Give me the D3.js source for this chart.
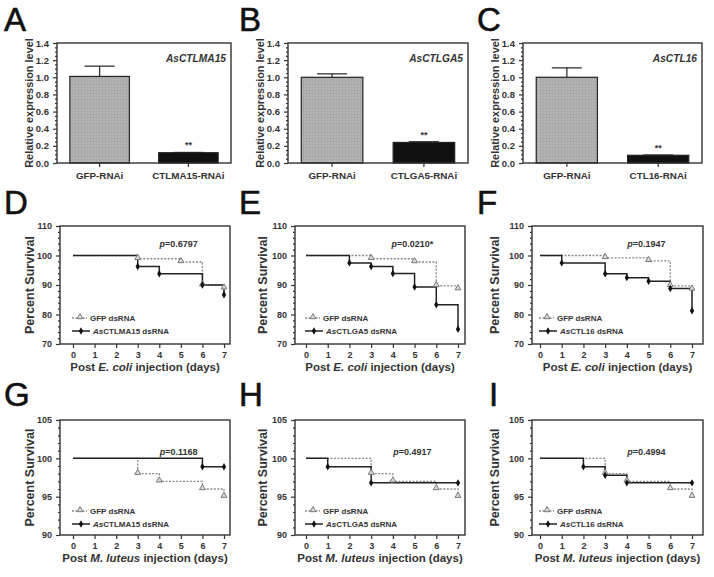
<!DOCTYPE html>
<html><head><meta charset="utf-8">
<script src="https://cdn.jsdelivr.net/npm/d3@7"></script>
<style>body{margin:0;background:#fff} svg{display:block} text{font-family:"Liberation Sans",Arial,sans-serif;fill:#333}</style>
</head><body><svg id="c" width="714" height="577"></svg>
<script>
// ---------- data ----------
const barGenes = ["AsCTLMA15", "AsCTLGA5", "AsCTL16"];
const ctrlLabels = ["GFP-RNAi", "GFP-RNAi", "GFP-RNAi"];
const kdLabels = ["CTLMA15-RNAi", "CTLGA5-RNAi", "CTL16-RNAi"];
const ctrlMeans = [1.01, 1.00, 1.00];
const ctrlErr = [0.12, 0.04, 0.11];
const kdMeans = [0.12, 0.24, 0.09];
const kdErr = [0.003, 0.008, 0.003];
const barYTicks = [0, 0.2, 0.4, 0.6, 0.8, 1.0, 1.2, 1.4];

const dayTicks = [0, 1, 2, 3, 4, 5, 6, 7];
const ecoliYTicks = [70, 80, 90, 100, 110];
const luteusYTicks = [90, 95, 100, 105];
const panelLetters = ["A", "B", "C", "D", "E", "F", "G", "H", "I"];
const dsNames = ["CTLMA15", "CTLGA5", "CTL16"];
const pValues = ["0.6797", "0.0210*", "0.1947", "0.1168", "0.4917", "0.4994"];

// survival curves [day, percent]
const gfpEcoliMA15 = [[0,100],[3,98.9],[5,97.8],[6,90],[7,88.9]];
const ctlEcoliMA15 = [[0,100],[3,96.3],[4,93.8],[6,90],[7,86.7]];
const gfpEcoliGA5  = [[0,100],[3,98.9],[5,97.8],[6,89.7],[7,88.6]];
const ctlEcoliGA5  = [[0,100],[2,97.5],[3,96.3],[4,93.9],[5,89.3],[6,83.3],[7,75]];
const gfpEcoliL16  = [[0,100],[3,99.2],[5,98.2],[6,89.7],[7,88.5]];
const ctlEcoliL16  = [[0,100],[1,97.5],[3,93.8],[4,92.5],[5,91.3],[6,88.8],[7,81.3]];
const gfpLutMA15 = [[0,100],[3,98],[4,97],[6,96],[7,95]];
const ctlLutMA15 = [[0,100],[6,98.9],[7,98.9]];
const gfpLutGA5  = [[0,100],[3,98],[4,97],[6,96],[7,95]];
const ctlLutGA5  = [[0,100],[1,98.9],[3,96.8],[7,96.8]];
const gfpLutL16  = [[0,100],[3,98],[4,97],[6,96],[7,95]];
const ctlLutL16  = [[0,100],[2,98.9],[3,97.8],[4,96.8],[7,96.8]];

// ---------- layout ----------
const svg = d3.select("#c");
const ink = "#333";
const defs = svg.append("defs");
const pat = defs.append("pattern").attr("id","grid").attr("width",3).attr("height",3).attr("patternUnits","userSpaceOnUse");
pat.append("rect").attr("width",3).attr("height",3).attr("fill","#b4b4b4");
pat.append("path").attr("d","M0,0.5H3M0.5,0V3").attr("stroke","#a2a2a2").attr("stroke-width",0.6);

const letterPos = [[4,31],[239,31],[477,31],[4,214],[239,214],[477,214],[4,406],[239,406],[489,406]];
panelLetters.forEach((L,i)=>{
  svg.append("text").attr("x",letterPos[i][0]).attr("y",letterPos[i][1])
    .attr("font-size",33).style("fill","#111").style("stroke","#111").style("stroke-width",0.6).text(L);
});

function styleAxis(g){
  g.select(".domain").remove();
  g.selectAll(".tick line").attr("stroke",ink).attr("stroke-width",1.2);
  g.selectAll(".tick text").attr("font-weight","bold").style("fill",ink);
}

// ---------- bar charts ----------
const barCols = [{x0:57,x1:231},{x0:288,x1:468},{x0:523,x1:702}];
const barTop = 43, barBot = 163;
barCols.forEach((c,i)=>{
  const g = svg.append("g");
  const y = d3.scaleLinear().domain([0,1.4]).range([barBot,barTop]);
  const cats = [ctrlLabels[i], kdLabels[i]];
  const x = d3.scaleBand().domain(cats).range([c.x0,c.x1]).paddingInner(0.33).paddingOuter(0.145);
  const means = [ctrlMeans[i], kdMeans[i]];
  const errs = [ctrlErr[i], kdErr[i]];
  const minor = d3.range(0,1.4001,0.05).filter(v=>Math.abs(Math.round(v*5)-v*5)>1e-6);
  g.append("g").attr("transform",`translate(${c.x0},0)`)
    .call(d3.axisLeft(y).tickValues(minor).tickSize(2).tickFormat(""))
    .call(styleAxis);
  g.append("g").attr("transform",`translate(${c.x0},0)`)
    .call(d3.axisLeft(y).tickValues(barYTicks).tickSize(4).tickPadding(4).tickFormat(d3.format(".1f")))
    .call(styleAxis).call(a=>a.selectAll(".tick text").attr("font-size",9.5));
  g.append("g").attr("transform",`translate(0,${barBot})`)
    .call(d3.axisBottom(x).tickSize(4).tickPadding(5))
    .call(styleAxis).call(a=>a.selectAll(".tick text").attr("font-size",9.8));
  cats.forEach((cat,j)=>{
    const bx = x(cat), bw = x.bandwidth();
    const cx = bx + bw/2;
    g.append("line").attr("x1",cx).attr("x2",cx).attr("y1",y(means[j])).attr("y2",y(means[j]+errs[j]))
      .attr("stroke",ink).attr("stroke-width",1.3);
    g.append("line").attr("x1",cx-15).attr("x2",cx+15).attr("y1",y(means[j]+errs[j])).attr("y2",y(means[j]+errs[j]))
      .attr("stroke",ink).attr("stroke-width",1.3);
    g.append("rect").attr("x",bx).attr("width",bw).attr("y",y(means[j])).attr("height",y(0)-y(means[j]))
      .attr("fill", j===0 ? "url(#grid)" : "#111").attr("stroke","#222").attr("stroke-width",1.2);
  });
  g.append("text").attr("x",x(cats[1])+x.bandwidth()/2).attr("y",y(kdMeans[i]+kdErr[i])-4)
    .attr("text-anchor","middle").attr("font-size",9).attr("font-weight","bold").text("**");
  g.append("rect").attr("x",c.x0).attr("y",barTop).attr("width",c.x1-c.x0).attr("height",barBot-barTop)
    .attr("fill","none").attr("stroke",ink).attr("stroke-width",1.4);
  g.append("text").attr("x",c.x1-5).attr("y",barTop+19).attr("text-anchor","end")
    .attr("font-size",10.2).attr("font-weight","bold").attr("font-style","italic").text(barGenes[i]);
  g.append("text").attr("transform",`translate(${c.x0-28},${(barTop+barBot)/2}) rotate(-90)`)
    .attr("text-anchor","middle").attr("dy","0.35em").attr("font-size",10.9).attr("font-weight","bold")
    .text("Relative expression level");
});

// ---------- survival curves ----------
const kmCols = [{l:60,r:230,d0:73,d7:224,tx:30},{l:295,r:465,d0:306,d7:458,tx:263},{l:532,r:703,d0:540,d7:692,tx:495}];
const kmRows = [
  {t:226,b:344,dom:[70,110],ticks:ecoliYTicks,minorStep:2,pY:247,legY:318,bug:"E. coli",
   gfp:[gfpEcoliMA15,gfpEcoliGA5,gfpEcoliL16], ctl:[ctlEcoliMA15,ctlEcoliGA5,ctlEcoliL16]},
  {t:420,b:535,dom:[90,105],ticks:luteusYTicks,minorStep:1,pY:455,legY:511,bug:"M. luteus",
   gfp:[gfpLutMA15,gfpLutGA5,gfpLutL16], ctl:[ctlLutMA15,ctlLutGA5,ctlLutL16]}
];
const tri = d3.symbol(d3.symbolTriangle).size(15);
const dia = d3.symbol(d3.symbolDiamond).size(16);

kmRows.forEach((row,ri)=>{
  kmCols.forEach((c,ci)=>{
    const g = svg.append("g");
    const x = d3.scaleLinear().domain([0,7]).range([c.d0,c.d7]);
    const y = d3.scaleLinear().domain(row.dom).range([row.b,row.t]);
    const minor = d3.range(row.dom[0],row.dom[1]+0.001,row.minorStep).filter(v=>!row.ticks.includes(v));
    g.append("g").attr("transform",`translate(${c.l},0)`)
      .call(d3.axisLeft(y).tickValues(minor).tickSize(2).tickFormat("")).call(styleAxis);
    g.append("g").attr("transform",`translate(${c.l},0)`)
      .call(d3.axisLeft(y).tickValues(row.ticks).tickSize(4).tickPadding(4).tickFormat(d3.format("d")))
      .call(styleAxis).call(a=>a.selectAll(".tick text").attr("font-size",9));
    g.append("g").attr("transform",`translate(0,${row.b})`)
      .call(d3.axisBottom(x).tickValues(dayTicks).tickSize(4).tickPadding(4).tickFormat(d3.format("d")))
      .call(styleAxis).call(a=>a.selectAll(".tick text").attr("font-size",9));
    g.append("rect").attr("x",c.l).attr("y",row.t).attr("width",c.r-c.l).attr("height",row.b-row.t)
      .attr("fill","none").attr("stroke",ink).attr("stroke-width",1.4);

    const line = d3.line().x(d=>x(d[0])).y(d=>y(d[1])).curve(d3.curveStepAfter);
    const gfp = row.gfp[ci], ctl = row.ctl[ci];
    g.append("path").datum(gfp).attr("d",line).attr("fill","none").attr("stroke","#888").attr("stroke-width",1.3).attr("stroke-dasharray","2,1.5");
    g.append("path").datum(ctl).attr("d",line).attr("fill","none").attr("stroke","#222").attr("stroke-width",1.5);
    g.selectAll(".mg").data(gfp.slice(1)).enter().append("path").attr("d",tri)
      .attr("transform",d=>`translate(${x(d[0])},${y(d[1])-1})`).attr("fill","#ddd").attr("stroke","#777").attr("stroke-width",1);
    g.selectAll(".mc").data(ctl.slice(1)).enter().append("path").attr("d",dia)
      .attr("transform",d=>`translate(${x(d[0])},${y(d[1])})`).attr("fill","#111");

    const pt = g.append("text").attr("x",x(4.9)).attr("y",row.pY).attr("text-anchor","middle")
      .attr("font-size",9).attr("font-weight","bold");
    pt.append("tspan").attr("font-style","italic").text("p");
    pt.append("tspan").text("=" + pValues[ri*3+ci]);

    const lx = c.d0 - 1;
    g.append("line").attr("x1",lx).attr("x2",lx+15).attr("y1",row.legY).attr("y2",row.legY)
      .attr("stroke","#888").attr("stroke-width",1.3).attr("stroke-dasharray","2,1.5");
    g.append("path").attr("d",tri).attr("transform",`translate(${lx+8},${row.legY-1})`)
      .attr("fill","#ddd").attr("stroke","#777").attr("stroke-width",1);
    g.append("text").attr("x",lx+18).attr("y",row.legY+3).attr("font-size",8).attr("font-weight","bold").text("GFP dsRNA");
    const ly2 = row.legY + 13;
    g.append("line").attr("x1",lx).attr("x2",lx+18).attr("y1",ly2).attr("y2",ly2)
      .attr("stroke","#222").attr("stroke-width",1.5);
    g.append("path").attr("d",dia).attr("transform",`translate(${lx+9},${ly2})`).attr("fill","#111");
    const lt = g.append("text").attr("x",lx+21).attr("y",ly2+3).attr("font-size",8).attr("font-weight","bold");
    lt.append("tspan").attr("font-style","italic").text("As");
    lt.append("tspan").text(dsNames[ci] + " dsRNA");

    g.append("text").attr("transform",`translate(${c.tx},${(row.t+row.b)/2}) rotate(-90)`)
      .attr("text-anchor","middle").attr("dy","0.35em").attr("font-size",12.5).attr("font-weight","bold").text("Percent Survival");
    const xt = g.append("text").attr("x",(c.l+c.r)/2).attr("y",row.b+27).attr("text-anchor","middle")
      .attr("font-size",11.5).attr("font-weight","bold");
    xt.append("tspan").text("Post ");
    xt.append("tspan").attr("font-style","italic").text(row.bug);
    xt.append("tspan").text(" injection (days)");
  });
});
</script></body></html>
